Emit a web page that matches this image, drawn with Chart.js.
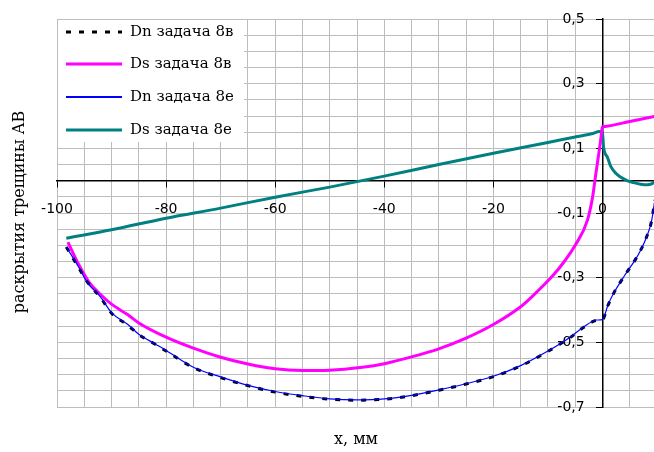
<!DOCTYPE html>
<html>
<head>
<meta charset="utf-8">
<script src="https://cdn.jsdelivr.net/npm/chart.js@4/dist/chart.umd.min.js"></script>
<style>
  body { margin: 0; background: #fff; overflow: hidden; }
</style>
</head>
<body>
<canvas id="crack" width="671" height="452"></canvas>
<script>
// series names
const names = ['Dn задача 8в', 'Ds задача 8в', 'Dn задача 8е', 'Ds задача 8е'];

// Dn задача 8в (black dashed)
const dnVx = [-98.3, -96, -94.5, -92, -90, -87, -85, -82, -80, -75, -70, -65, -60, -55, -50, -45, -40, -35, -30, -25, -20, -15, -10, -6, -3.5, -1, 0, 1, 2, 4, 6, 7, 8, 9, 9.6];
const dnVy = [-0.205, -0.27, -0.312, -0.362, -0.41, -0.447, -0.476, -0.506, -0.527, -0.578, -0.609, -0.634, -0.654, -0.667, -0.676, -0.679, -0.676, -0.665, -0.648, -0.629, -0.606, -0.573, -0.528, -0.486, -0.454, -0.432, -0.43, -0.386, -0.35, -0.295, -0.245, -0.215, -0.178, -0.125, -0.06];

// Ds задача 8в (magenta)
const dsVx = [-98, -96, -94, -92, -90, -87, -85, -80, -75, -70, -65, -60, -55, -50, -44, -40, -35, -30, -25, -20, -15, -13, -9, -7, -5, -2.75, -1.8, -1.3, -0.4, 0, 0.15, 5, 10];
const dsVy = [-0.19, -0.26, -0.317, -0.352, -0.382, -0.415, -0.44, -0.484, -0.518, -0.546, -0.567, -0.582, -0.587, -0.586, -0.577, -0.566, -0.545, -0.52, -0.487, -0.445, -0.39, -0.36, -0.292, -0.25, -0.2, -0.122, -0.05, 0.011, 0.116, 0.166, 0.167, 0.183, 0.2];

// Dn задача 8е (blue)
const dnEx = [-98.3, -96, -94.5, -92, -90, -87, -85, -82, -80, -75, -70, -65, -60, -55, -50, -45, -40, -35, -30, -25, -20, -15, -10, -6, -3.5, -1, 0, 1, 2, 4, 6, 7, 8, 9, 9.6];
const dnEy = [-0.205, -0.268, -0.314, -0.36, -0.408, -0.445, -0.475, -0.505, -0.525, -0.577, -0.607, -0.633, -0.652, -0.665, -0.675, -0.678, -0.675, -0.664, -0.647, -0.628, -0.605, -0.572, -0.527, -0.485, -0.453, -0.431, -0.43, -0.385, -0.35, -0.295, -0.245, -0.215, -0.178, -0.125, -0.06];

// Ds задача 8е (teal)
const dsEx = [-98.3, -90, -80, -70, -60, -50, -40, -30, -20, -10, -5, -2, -0.5, 0, 0.2, 0.9, 1.5, 2.5, 3.3, 4.5, 5.7, 7, 8.3, 9, 9.6, 10];
const dsEy = [-0.178, -0.152, -0.116, -0.085, -0.051, -0.02, 0.014, 0.05, 0.085, 0.118, 0.135, 0.145, 0.152, 0.15, 0.104, 0.073, 0.045, 0.022, 0.011, 0.0, -0.006, -0.011, -0.013, -0.01, -0.003, 0.003];

const pts = (xs, ys) => xs.map((x, i) => ({ x, y: ys[i] }));

const isMajorY = v => Math.abs(Math.round((v + 0.7) * 100) % 20) === 0;
const isMajorX = v => v <= 0 && Math.round(v) % 20 === 0;

const serif = '"DejaVu Serif", "Liberation Serif", serif';

// legend + axis titles drawn inside the plot area
const plotExtras = {
    id: 'plotExtras',
    afterDraw(chart) {
        const ctx = chart.ctx;
        ctx.save();
        ctx.fillStyle = '#fff';
        ctx.fillRect(58, 20, 186, 122);
        const rows = [32, 64, 97, 130];
        chart.data.datasets.forEach((ds, i) => {
            const y = rows[i];
            ctx.beginPath();
            ctx.strokeStyle = ds.borderColor;
            ctx.lineWidth = Math.max(ds.borderWidth, 2);
            ctx.setLineDash(ds.borderDash || []);
            ctx.moveTo(66, y);
            ctx.lineTo(122, y);
            ctx.stroke();
            ctx.setLineDash([]);
            ctx.fillStyle = '#000';
            ctx.font = '15px ' + serif;
            ctx.textAlign = 'left';
            ctx.textBaseline = 'middle';
            ctx.fillText(ds.label, 130, y);
        });
        ctx.font = '16px ' + serif;
        ctx.textAlign = 'center';
        ctx.textBaseline = 'middle';
        ctx.fillText('x, мм', 356, 440);
        ctx.translate(20, 212);
        ctx.rotate(-Math.PI / 2);
        ctx.fillText('раскрытия трещины AB', 0, 0);
        ctx.restore();
    }
};

const ctxCrack = document.getElementById('crack').getContext('2d');
const crackChart = new Chart(ctxCrack, {
    type: 'line',
    data: {
        datasets: [{
            label: names[0],
            data: pts(dnVx, dnVy),
            borderColor: '#000000',
            borderWidth: 3,
            borderDash: [5, 8],
            order: 1
        }, {
            label: names[1],
            data: pts(dsVx, dsVy),
            borderColor: '#ff00ff',
            borderWidth: 3,
            order: 2
        }, {
            label: names[2],
            data: pts(dnEx, dnEy),
            borderColor: '#0000ff',
            borderWidth: 1.2,
            order: 0
        }, {
            label: names[3],
            data: pts(dsEx, dsEy),
            borderColor: '#008080',
            borderWidth: 3,
            order: 3
        }]
    },
    options: {
        responsive: false,
        animation: false,
        events: [],
        layout: {
            padding: { left: 57, top: 19, right: 3, bottom: 45 }
        },
        elements: {
            point: { radius: 0 },
            line: { cubicInterpolationMode: 'monotone', fill: false }
        },
        plugins: {
            legend: { display: false },
            tooltip: { enabled: false }
        },
        scales: {
            x: {
                type: 'linear',
                position: { y: 0 },
                min: -100,
                max: 10,
                ticks: {
                    stepSize: 5,
                    autoSkip: false,
                    maxRotation: 0,
                    padding: 14,
                    color: '#000',
                    font: { family: '"DejaVu Sans", sans-serif', size: 14 },
                    callback: v => isMajorX(v) ? String(v) : ''
                },
                grid: {
                    color: '#bdbdbd',
                    tickLength: 6,
                    tickColor: c => isMajorX(c.tick.value) ? '#000' : 'rgba(0,0,0,0)'
                },
                border: { color: '#000', width: 1.5 }
            },
            y: {
                type: 'linear',
                position: { x: 0 },
                min: -0.7,
                max: 0.5,
                ticks: {
                    stepSize: 0.05,
                    autoSkip: false,
                    color: '#000',
                    font: { family: '"DejaVu Sans", sans-serif', size: 14 },
                    callback: v => isMajorY(v) ? v.toFixed(1).replace('.', ',') + '    ' : ''
                },
                grid: {
                    color: '#bdbdbd',
                    tickLength: 6,
                    tickColor: c => isMajorY(c.tick.value) ? '#000' : 'rgba(0,0,0,0)'
                },
                border: { color: '#000', width: 1.5 }
            }
        }
    },
    plugins: [plotExtras]
});
</script>
</body>
</html>
